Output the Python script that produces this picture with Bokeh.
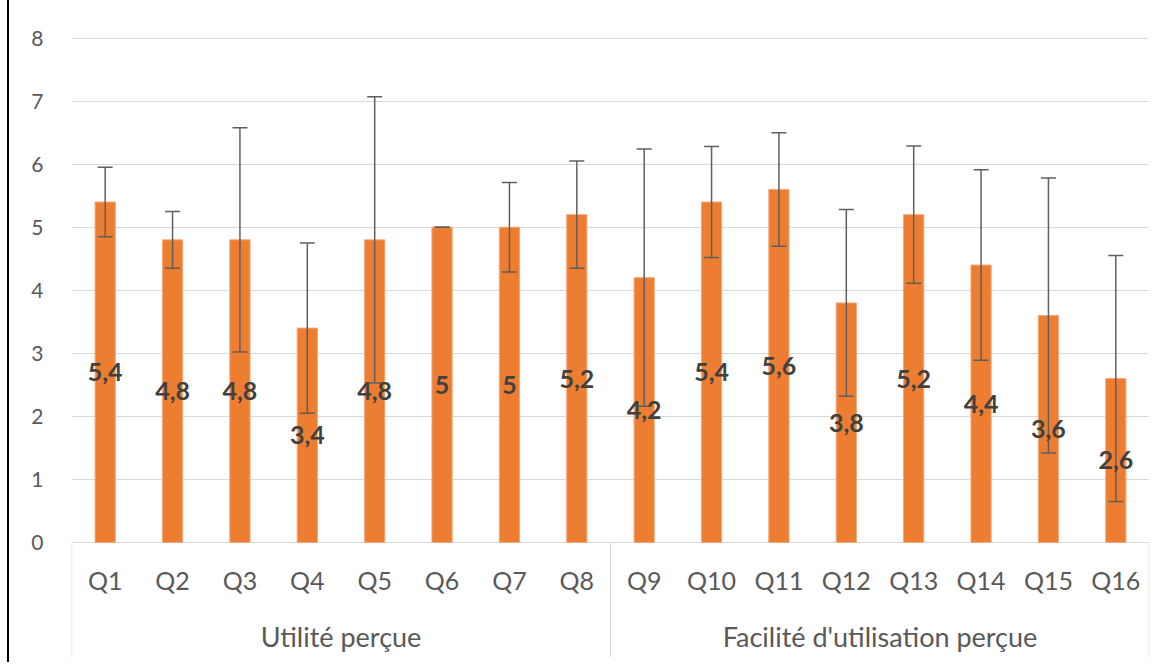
from bokeh.plotting import figure
from bokeh.models import ColumnDataSource, FactorRange, FixedTicker, Range1d
from bokeh.embed import file_html
from bokeh.resources import INLINE
from bokeh.core.properties import value

# ---- data ----
group_names = ["Utilité perçue", "Facilité d'utilisation perçue"]
questions = ["Q1", "Q2", "Q3", "Q4", "Q5", "Q6", "Q7", "Q8",
             "Q9", "Q10", "Q11", "Q12", "Q13", "Q14", "Q15", "Q16"]
question_groups = ["Utilité perçue"] * 8 + ["Facilité d'utilisation perçue"] * 8
means = [5.4, 4.8, 4.8, 3.4, 4.8, 5.0, 5.0, 5.2,
         4.2, 5.4, 5.6, 3.8, 5.2, 4.4, 3.6, 2.6]
errors = [0.55, 0.45, 1.78, 1.35, 2.27, 0.0, 0.71, 0.85,
          2.04, 0.88, 0.90, 1.48, 1.09, 1.51, 2.18, 1.95]
y_ticks = [0, 1, 2, 3, 4, 5, 6, 7, 8]

FONT = "Lato"
BAR = "#ED7D31"
GRID = "#D9D9D9"
ERR = "#5F5F5F"
TXT = "#595959"

factors = list(zip(question_groups, questions))

def fmt(v):
    return ("%g" % v).replace(".", ",")

src = ColumnDataSource(dict(
    x=factors,
    mean=means,
    upper=[m + e for m, e in zip(means, errors)],
    lower=[m - e for m, e in zip(means, errors)],
    mid=[m / 2 for m in means],
    label=[fmt(m) for m in means],
))

p = figure(
    x_range=FactorRange(*factors, group_padding=0, factor_padding=0, range_padding=0),
    y_range=Range1d(-1.825, 8.2),
    width=1159, height=662,
    output_backend="svg", toolbar_location=None,
    x_axis_location=None,
    min_border_left=62, min_border_right=19, min_border_top=25, min_border_bottom=5,
)
p.outline_line_color = None
p.xgrid.visible = False
p.ygrid.ticker = FixedTicker(ticks=y_ticks)
p.ygrid.grid_line_color = GRID
p.ygrid.grid_line_width = 1

ax = p.yaxis[0]
ax.ticker = FixedTicker(ticks=y_ticks)
ax.axis_line_color = None
ax.major_tick_line_color = None
ax.minor_tick_line_color = None
ax.major_tick_out = 0
ax.major_tick_in = 0
ax.major_label_standoff = 28
ax.major_label_text_font = FONT
ax.major_label_text_font_size = "21px"
ax.major_label_text_color = TXT

# bars
p.vbar(x="x", top="mean", width=0.3, source=src, fill_color=BAR, line_color="#F4A878", line_width=1)

# error bars
p.segment(x0="x", y0="lower", x1="x", y1="upper", source=src, line_color=ERR, line_width=1.5)
p.scatter(x="x", y="upper", marker="dash", size=15, source=src, line_color=ERR, line_width=1.5)
p.scatter(x="x", y="lower", marker="dash", size=15, source=src, line_color=ERR, line_width=1.5)

# data labels
p.text(x="x", y="mid", text="label", source=src, text_align="center", text_baseline="middle",
       text_font=value(FONT), text_font_style="bold", text_font_size="25px", text_color="#404040")

# category axis (drawn in the area below zero)
p.text(x="x", y=-0.6, text="q", source=ColumnDataSource(dict(x=factors, q=questions)),
       text_align="center", text_baseline="middle",
       text_font=value(FONT), text_font_size="25px", text_color=TXT)
p.text(x="g", y=-1.49, text="g", source=ColumnDataSource(dict(g=group_names)),
       text_align="center", text_baseline="middle",
       text_font=value(FONT), text_font_size="27px", text_color=TXT)

sep_x = [(question_groups[0], questions[0], -0.497),
         (question_groups[7], questions[7], 0.5),
         (question_groups[-1], questions[-1], 0.497)]
p.segment(x0=sep_x, y0=0, x1=sep_x, y1=-1.825, line_color=GRID, line_width=1)

p.styles = {"margin-left": "7px", "border-left": "2px solid #000000"}

open("out.html", "w").write(file_html(p, INLINE))
